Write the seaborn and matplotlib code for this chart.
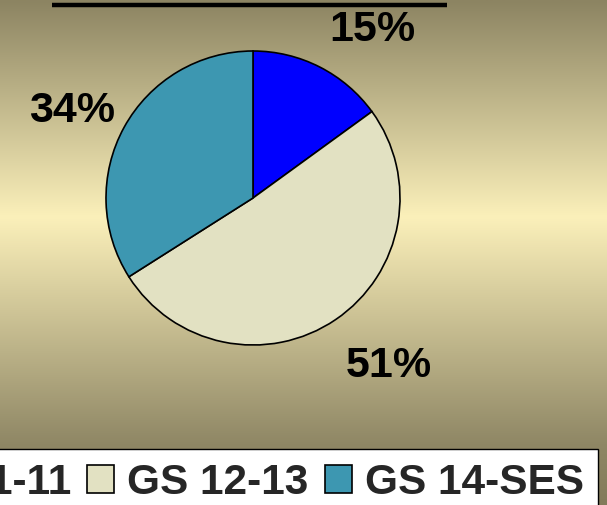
import numpy as np
import matplotlib
matplotlib.use("Agg")
import matplotlib.pyplot as plt
import seaborn as sns
from matplotlib.colors import LinearSegmentedColormap

# data
categories = ['GS 1-11', 'GS 12-13', 'GS 14-SES']
shares = [15, 51, 34]
slice_colors = ['#0000FF', '#E2E1C2', '#3D97B1']

sns.set_theme(style="white")
plt.rcParams['font.family'] = ['Liberation Sans', 'DejaVu Sans']

fig = plt.figure(figsize=(6.07, 5.05), dpi=100)

# gradient background
bg = fig.add_axes([0, 0, 1, 1])
bg_cmap = LinearSegmentedColormap.from_list(
    'bg', [(0.0, '#8C8462'), (0.43, '#FBF0BA'), (0.88, '#8F8765'), (1.0, '#837B5A')])
bg.imshow(np.linspace(0, 1, 256).reshape(-1, 1), aspect='auto', cmap=bg_cmap,
          extent=[0, 1, 0, 1], origin='upper')
bg.set_xlim(0, 1)
bg.set_ylim(0, 1)
bg.axis('off')

# top rule line
bg.plot([52 / 607, 447 / 607], [1 - 5 / 505, 1 - 5 / 505], color='black', lw=3.2,
        solid_capstyle='butt')

# pie
cx, cy, r = 253, 198, 147
ax = fig.add_axes([(cx - r) / 607, (505 - cy - r) / 505, 2 * r / 607, 2 * r / 505])
wedges, texts, autotexts = ax.pie(
    shares, colors=slice_colors, startangle=90, counterclock=False,
    autopct='%1.0f%%', pctdistance=1.42,
    wedgeprops=dict(edgecolor='black', linewidth=1.2),
    textprops=dict(fontsize=31, fontweight='bold', color='black'))
ax.set_xlim(-1, 1)
ax.set_ylim(-1, 1)
ax.set_aspect('auto')

nudges = [(0.17, -0.12), (0.127, 0.032), (0.01, -0.093)]
for t, (dx, dy) in zip(autotexts, nudges):
    x, y = t.get_position()
    t.set_position((x + dx, y + dy))

# legend (cut off at the left edge, like the reference)
leg = fig.legend(wedges, categories, loc='upper right',
                 bbox_to_anchor=(598 / 607, 1 - 449 / 505), ncol=3,
                 prop=dict(size=30.5, weight='bold'), frameon=True, fancybox=False,
                 framealpha=1, edgecolor='black', facecolor='white',
                 handlelength=0.64, handleheight=0.64, handletextpad=0.31,
                 columnspacing=0.38, borderpad=0.33, borderaxespad=0)
leg.get_frame().set_linewidth(1.0)

plt.savefig('out.png', dpi=100)
